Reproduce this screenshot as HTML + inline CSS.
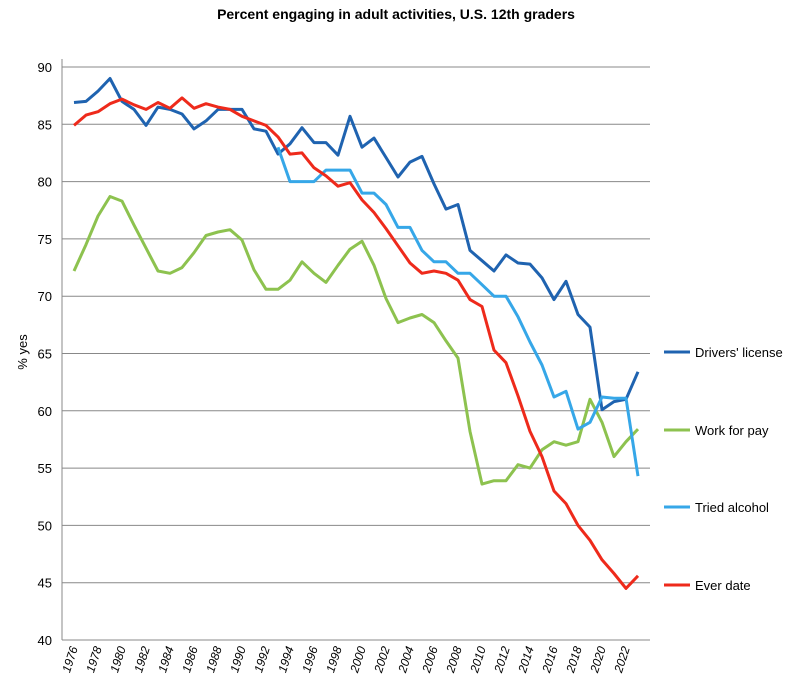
<!DOCTYPE html>
<html><head><meta charset="utf-8"><style>
body{margin:0;background:#fff;font-family:"Liberation Sans",sans-serif}
</style></head><body>
<svg id="chart" width="792" height="692" xmlns="http://www.w3.org/2000/svg" font-family="Liberation Sans, sans-serif">
<text x="396" y="19" text-anchor="middle" font-size="14" font-weight="bold">Percent engaging in adult activities, U.S. 12th graders</text>
<text transform="translate(27,352) rotate(-90)" text-anchor="middle" font-size="13">% yes</text>
<g id="grid"></g><g id="series"></g><g id="legend"></g>
</svg>
<script>
const years=[];for(let y=1976;y<=2023;y++)years.push(y);
const yTicks=[40,45,50,55,60,65,70,75,80,85,90];
const seriesNames=["Drivers' license","Work for pay","Tried alcohol","Ever date"];
const drivers=[86.9,87.0,87.9,89.0,87.0,86.3,84.9,86.5,86.3,85.9,84.6,85.3,86.3,86.3,86.3,84.6,84.4,82.4,83.3,84.7,83.4,83.4,82.3,85.7,83.0,83.8,82.1,80.4,81.7,82.2,79.8,77.6,78.0,74.0,73.1,72.2,73.6,72.9,72.8,71.6,69.7,71.3,68.4,67.3,60.1,60.8,61.0,63.4];
const work=[72.2,74.5,77.0,78.7,78.3,76.2,74.2,72.2,72.0,72.5,73.8,75.3,75.6,75.8,74.9,72.3,70.6,70.6,71.4,73.0,72.0,71.2,72.7,74.1,74.8,72.7,69.8,67.7,68.1,68.4,67.7,66.1,64.6,58.2,53.6,53.9,53.9,55.3,55.0,56.6,57.3,57.0,57.3,61.0,59.0,56.0,57.3,58.4];
const alcohol=[null,null,null,null,null,null,null,null,null,null,null,null,null,null,null,null,null,83.0,80.0,80.0,80.0,81.0,81.0,81.0,79.0,79.0,78.0,76.0,76.0,74.0,73.0,73.0,72.0,72.0,71.0,70.0,70.0,68.2,66.0,64.0,61.2,61.7,58.4,59.0,61.2,61.1,61.1,54.3];
const dating=[84.9,85.8,86.1,86.8,87.2,86.7,86.3,86.9,86.4,87.3,86.4,86.8,86.5,86.3,85.7,85.3,84.9,83.9,82.4,82.5,81.2,80.5,79.6,79.9,78.4,77.3,75.9,74.4,72.9,72.0,72.2,72.0,71.4,69.7,69.1,65.3,64.2,61.3,58.2,56.0,53.0,51.9,50.0,48.7,47.0,45.8,44.5,45.6];
const colors=["#1f63b0","#8dc24f","#36a7e8","#ee2a1b"];
const NS="http://www.w3.org/2000/svg";
const X0=62,X1=650,Y0=640,Y1=67;
const xs=y=>74+(y-1976)*(638-74)/47;
const ys=v=>Y0-(v-40)/50*(Y0-Y1);
function mk(t,a,p){const e=document.createElementNS(NS,t);for(const k in a)e.setAttribute(k,a[k]);p.appendChild(e);return e;}
const grid=document.getElementById('grid');
yTicks.forEach(t=>{
 if(t>40){const l=mk('line',{x1:X0,x2:X1,y1:ys(t),y2:ys(t),stroke:'#888','stroke-width':1},grid);
 
 }
 const tx=mk('text',{x:52,y:ys(t)+5,'text-anchor':'end','font-size':13},grid);tx.textContent=t;
 
 
});
const ax=mk('line',{x1:X0,x2:X0,y1:Y1-8,y2:Y0,stroke:'#888'},grid);


const bx=mk('line',{x1:X0,x2:X1,y1:Y0,y2:Y0,stroke:'#888'},grid);


years.forEach(y=>{if(y%2)return;
 const t=mk('text',{transform:`translate(${xs(y)+4},${Y0+8}) rotate(-72)`,'text-anchor':'end','font-size':12,'font-style':'italic'},grid);t.textContent=y;
 
 
});
const sg=document.getElementById('series');
[drivers,work,alcohol,dating].forEach((arr,i)=>{
 let d='',pen=false;arr.forEach((v,j)=>{if(v==null){pen=false;return;}d+=(pen?'L':'M')+xs(years[j]).toFixed(1)+','+ys(v).toFixed(1);pen=true;});
 const p=mk('path',{d,fill:'none',stroke:colors[i],'stroke-width':3,'stroke-linejoin':'round'},sg);
 
 
});
const lg=document.getElementById('legend');
[352,430,507,585].forEach((y,i)=>{
 const g=mk('g',{},lg);
 
 
 mk('line',{x1:664,x2:690,y1:y,y2:y,stroke:colors[i],'stroke-width':3},g);
 const t=mk('text',{x:695,y:y+5,'font-size':13},g);t.textContent=seriesNames[i];
});
</script>
</body></html>
